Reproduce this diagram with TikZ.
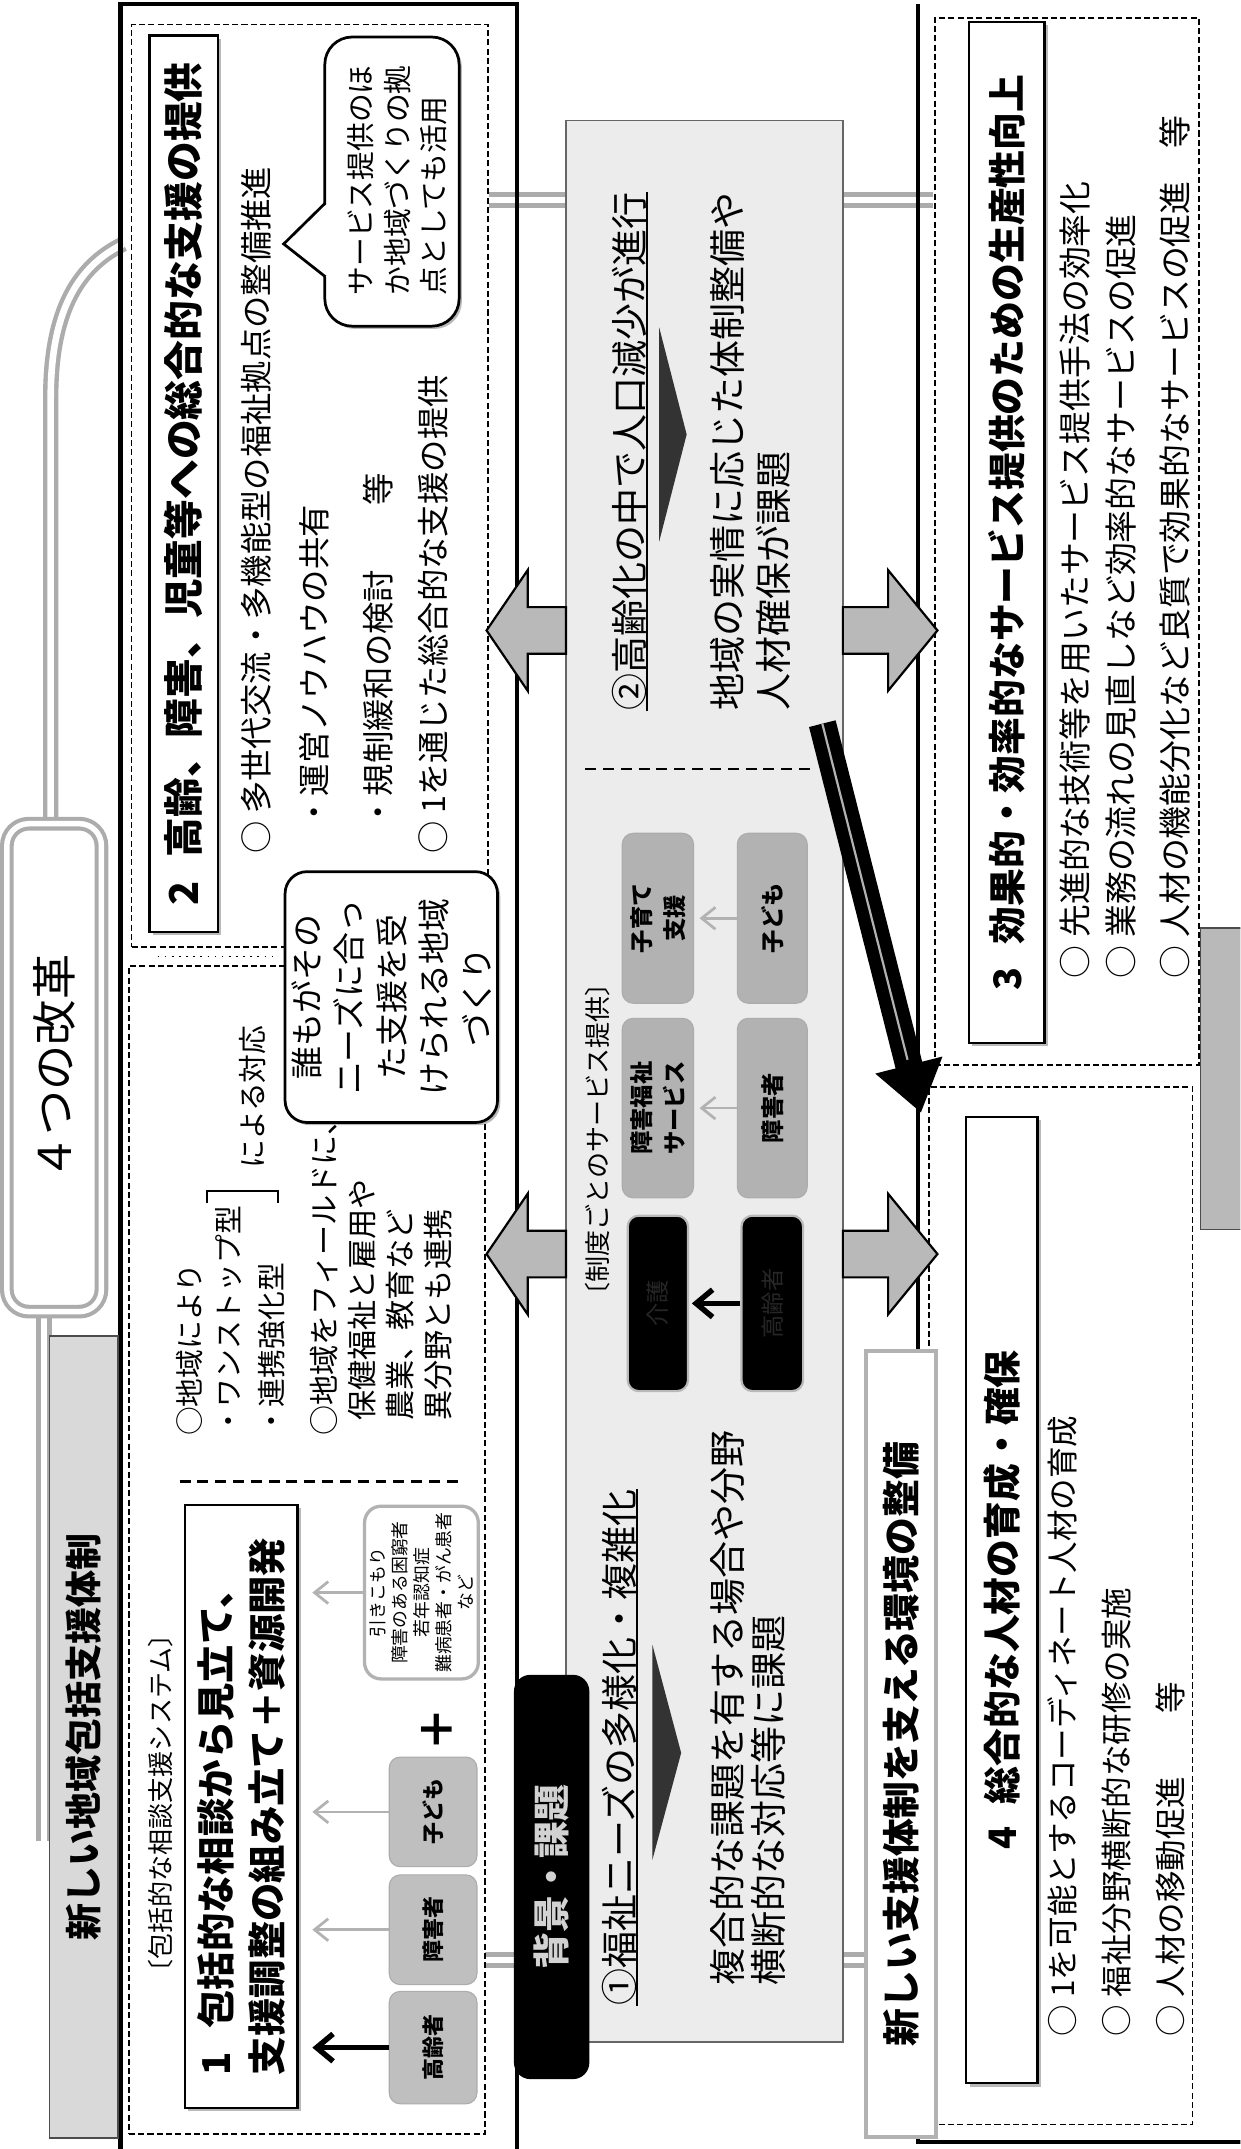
\documentclass[tikz,border=0pt]{standalone}
\usepackage{fontspec}
\setmainfont{Noto Sans CJK JP}
\usetikzlibrary{fit,arrows.meta,shadows}

\newcommand\setfs[2]{\fontsize{#1}{#2}\selectfont}

\tikzset{
  vtxt/.style={rotate=90, inner sep=0pt, anchor=west, align=left},
  vmid/.style={rotate=90, inner sep=0pt, align=center},
  dashbox/.style={draw=black, line width=0.6pt, dash pattern=on 2.2pt off 1.2pt, inner sep=0pt},
  hdrbox/.style={draw=black, line width=0.9pt, fill=white, inner sep=0pt,
    drop shadow={shadow xshift=1.2pt, shadow yshift=-1.2pt, fill=gray!55, opacity=1}},
  roundbox/.style={draw=black, line width=1pt, fill=white, inner sep=0pt,
    drop shadow={shadow xshift=1pt, shadow yshift=-1pt, fill=gray!55, opacity=1}},
  clientbox/.style={fill=gray!50, draw=gray!65, rounded corners=4pt, inner sep=0pt},
  darkbox/.style={fill=black, draw=gray!55, line width=0.8pt, rounded corners=4pt, inner sep=0pt},
  otherbox/.style={draw=gray!60, line width=1.2pt, rounded corners=6pt, fill=white, inner sep=0pt},
  greyline/.style={draw=gray!65, double=white, double distance=2.4pt, line width=1.6pt},
  blockarrow/.style={fill=gray!55, draw=black, line width=0.8pt},
  greyarrow/.style={draw=gray!60, line width=1pt, -{Straight Barb[length=5pt, width=8pt]}},
  blackarrow/.style={draw=black, line width=2pt, -{Straight Barb[length=6pt, width=10pt]}},
  headfont/.style={font=\bfseries\setfs{13.8}{18}},
  bandfont/.style={font=\setfs{13.5}{17}}
}

\begin{document}
\begin{tikzpicture}[x=0.5pt, y=-0.5pt]
\useasboundingbox (0,0) rectangle (905,1568);
\clip (0,0) rectangle (905,1568);
\fill [white] (0,0) rectangle (905,1568);

% connecting lines
\draw [greyline] (37,601) -- (37,290) .. controls (37,230) and (55,195) .. (90,178);
\draw [greyline] (32,957) -- (32,1343);
\draw [greyline] (357,146) -- (681,146);
\draw [greyline] (354,1430) -- (632,1430);

% frames
\draw [line width=1.6pt] (88,1590) -- (88,3) -- (377,3) -- (377,1590);
\draw [line width=1.6pt] (670,3) -- (670,1563) -- (910,1563);

% Title
\node [draw=gray!65, double=white, double distance=2pt, line width=1.5pt,
  fill=white, rounded corners=8pt, inner sep=0pt,
  fit={(5,601) (74,957)}] (title) {};
\node [vmid, font=\setfs{16.5}{20}] at (title) {４つの改革};

% New system header
\node [fill=gray!30, draw=black!70, line width=0.6pt, inner sep=0pt,
  fit={(36,975) (86,1560)}] (sysbox) {};
\node [vmid, font=\bfseries\setfs{13.5}{16}] at (sysbox) {新しい地域包括支援体制};

% Sections 2 and 1
\node [dashbox, fit={(96,18) (356,691)}] (sec2) {};
\node [dashbox, fit={(94,705) (354,1557)}] (sec1) {};
\draw [dotted, line width=0.6pt] (115,698) -- (203,698);

% Header 2
\node [hdrbox, fit={(109,26) (159,680)}] (hdr2) {};
\node [vmid, font=\bfseries\setfs{14.5}{16}] at (hdr2)
  {2\hspace{0.6em}高齢、障害、児童等への総合的な支援の提供};

% Items of 2
\node [vtxt, font=\setfs{11.8}{14}] (b2a) at (187,623) {○ 多世代交流・多機能型の福祉拠点の整備推進};
\node [vtxt, font=\setfs{11.8}{14}] (b2b) at (229,605) {・運営ノウハウの共有};
\node [vtxt, font=\setfs{11.8}{14}] (b2c) at (276,605) {・規制緩和の検討\hspace{2em}等};
\node [vtxt, font=\setfs{11.8}{14}] (b2d) at (316,623) {○ 1を通じた総合的な支援の提供};

% Speech bubble
\node [roundbox, rounded corners=10pt, fit={(237,27) (335,238)}] (hub) {};
\fill [white] (239,147) -- (207,178) -- (239,203) -- cycle;
\draw [line width=1pt] (237.5,148) -- (207,178) -- (237.5,202);
\node [vtxt, font=\setfs{10.5}{13.25}] (hubtxt) at (290,216)
  {サービス提供のほ\\か地域づくりの拠\\点としても活用};

% Goal callout
\node [roundbox, rounded corners=8pt, fit={(208,636) (363,819)}] (goal) {};
\node [vmid, font=\setfs{12}{15.5}] at (goal)
  {誰もがその\\ニーズに合っ\\た支援を受\\けられる地域\\づくり};

% Section 1 contents
\node [vtxt, font=\setfs{9.5}{11}] (sysname) at (117,1449) {〔包括的な相談支援システム〕};
\node [hdrbox, fit={(135,1098) (217,1538)}] (hdr1) {};
\node [vmid, align=left, font=\bfseries\setfs{14}{18.5}] at (hdr1)
  {1\hspace{0.6em}包括的な相談から見立て、\\支援調整の組み立て＋資源開発};

\foreach \nm/\txt/\ya/\yb in {kourei/高齢者/1453/1535, shogai/障害者/1368/1448, kodomo/子ども/1282/1362}{
  \node [clientbox, fit={(284,\ya) (348,\yb)}] (\nm) {};
  \node [vmid, font=\bfseries\setfs{8}{8}] at (\nm) {\txt};
}
\node [vmid, font=\bfseries\setfs{16}{16}] (plus) at (319,1262) {＋};

\node [otherbox, fit={(266,1099) (349,1225)}] (others) {};
\node [vmid, font=\setfs{6.5}{8}] at (others)
  {引きこもり\\障害のある困窮者\\若年認知症\\難病患者・がん患者\\など};

\draw [blackarrow, shorten >=5pt] (kourei.west) -- (kourei.west -| hdr1.east);
\draw [greyarrow, shorten >=5pt] (shogai.west) -- (shogai.west -| hdr1.east);
\draw [greyarrow, shorten >=5pt] (kodomo.west) -- (kodomo.west -| hdr1.east);
\draw [greyarrow, shorten >=5pt] (others.west) -- (others.west -| hdr1.east);

\draw [draw=black, line width=0.9pt, dash pattern=on 4pt off 2.5pt] (131,1081) -- (336,1081);

\node [vtxt, font=\setfs{10.5}{13}] (area1) at (138,1048) {○地域により};
\node [vtxt, font=\setfs{10.5}{13}] (area1a) at (167,1048) {・ワンストップ型};
\node [vtxt, font=\setfs{10.5}{13}] (area1b) at (198,1048) {・連携強化型};
\draw [line width=0.8pt] (151,878) -- (151,869) -- (203,869) -- (203,878);
\node [vtxt, font=\setfs{10.5}{13}] (taiou) at (184,853) {による対応};
\node [vtxt, font=\setfs{11}{13.85}] (area2) at (278,1048)
  {○地域をフィールドに、\\\hspace*{0.5em}保健福祉と雇用や\\\hspace*{0.5em}農業、教育など\\\hspace*{0.5em}異分野とも連携};

% Background band
\node [fill=gray!15, draw=black!60, line width=0.5pt, inner sep=0pt,
  fit={(413,88) (615,1490)}] (bg) {};

\node [vtxt, bandfont] (need2) at (459,519) {②高齢化の中で人口減少が進行};
\draw [line width=0.8pt] (need2.south west) -- (need2.south east);
\fill [black!80] (481,239) -- (501,317) -- (481,395) -- cycle;
\node [vtxt, font=\setfs{13.5}{17}] (need2txt) at (547.5,519)
  {地域の実情に応じた体制整備や\\人材確保が課題};

\draw [draw=black, line width=0.8pt, dash pattern=on 4pt off 2.5pt] (427,561) -- (593,561);

\node [vtxt, font=\setfs{9.5}{11}] (seido) at (436,955) {〔制度ごとのサービス提供〕};
\node [clientbox, fill=gray!60, fit={(454,608) (506,732)}] (kosodate) {};
\node [vmid, font=\bfseries\setfs{8.5}{12}] at (kosodate) {子育て\\支援};
\node [clientbox, fill=gray!60, fit={(538,608) (589,732)}] (kodomo2) {};
\node [vmid, font=\bfseries\setfs{8.5}{12}] at (kodomo2) {子ども};
\node [clientbox, fill=gray!60, fit={(454,743) (506,874)}] (shogaisvc) {};
\node [vmid, font=\bfseries\setfs{8.5}{12}] at (shogaisvc) {障害福祉\\サービス};
\node [clientbox, fill=gray!60, fit={(538,743) (589,874)}] (shogai2) {};
\node [vmid, font=\bfseries\setfs{8.5}{12}] at (shogai2) {障害者};
\node [darkbox, fit={(458,887) (502,1015)}] (kaigo) {};
\node [vmid, text=black!85, font=\setfs{8.5}{12}] at (kaigo) {介護};
\node [darkbox, fit={(541,887) (586,1015)}] (kourei2) {};
\node [vmid, text=black!85, font=\setfs{8.5}{12}] at (kourei2) {高齢者};
\draw [greyarrow, shorten >=2pt] (kodomo2.west) -- (kosodate.east);
\draw [greyarrow, shorten >=2pt] (shogai2.west) -- (shogaisvc.east);
\draw [blackarrow, shorten >=1pt] (kourei2.west) -- (kaigo.east);

\node [vtxt, bandfont] (need1) at (452,1464) {①福祉ニーズの多様化・複雑化};
\draw [line width=0.8pt] (need1.south west) -- (need1.south east);
\fill [black!80] (476,1200) -- (497,1279) -- (476,1357) -- cycle;
\node [vtxt, font=\setfs{13.5}{15}] (need1txt) at (545.5,1449)
  {複合的な課題を有する場合や分野\\横断的な対応等に課題};

% Background label
\node [fill=black, rounded corners=6pt, inner sep=0pt, fit={(375,1222) (430,1517)}] (issue) {};
\node [vmid, text=gray!35, font=\bfseries\setfs{13.5}{16}] at (issue) {背景・課題};

% Section 3
\node [dashbox, fit={(682,13) (875,777)}] (sec3) {};
\node [hdrbox, fit={(707,16) (762,761)}] (hdr3) {};
\node [vmid, headfont] at (hdr3) {3\hspace{0.6em}効果的・効率的なサービス提供のための生産性向上};
\node [vtxt, font=\setfs{12}{14}] (b3a) at (784,714) {○ 先進的な技術等を用いたサービス提供手法の効率化};
\node [vtxt, font=\setfs{12}{14}] (b3b) at (818,714) {○ 業務の流れの見直しなど効率的なサービスの促進};
\node [vtxt, font=\setfs{12}{14}] (b3c) at (857,714) {○ 人材の機能分化など良質で効果的なサービスの促進\hspace{1em}等};

% Section 4
\node [dashbox, fit={(678,793) (870,1550)}] (sec4) {};
\node [hdrbox, fit={(705,815) (757,1520)}] (hdr4) {};
\node [vmid, headfont] at (hdr4) {4\hspace{0.6em}総合的な人材の育成・確保};
\node [vtxt, font=\setfs{11.5}{14}] (b4a) at (775,1486) {○ 1を可能とするコーディネート人材の育成};
\node [vtxt, font=\setfs{11.5}{14}] (b4b) at (815,1486) {○ 福祉分野横断的な研修の実施};
\node [vtxt, font=\setfs{11.5}{14}] (b4c) at (854,1486) {○ 人材の移動促進\hspace{2em}等};

% Environment box
\node [draw=gray!60, line width=1.4pt, fill=white, inner sep=0pt,
  fit={(632,986) (683,1559)}] (env) {};
\node [vmid, font=\bfseries\setfs{13.8}{16}] at (env) {新しい支援体制を支える環境の整備};

% cut-off bar at the right edge
\filldraw [fill=gray!55, draw=black!70, line width=0.5pt] (876,677) rectangle (910,897);

% Block arrows
\foreach \c in {460,915}{
  \filldraw [blockarrow] (413,\c-17) -- (385,\c-17) -- (385,\c-44) -- (355,\c)
    -- (385,\c+44) -- (385,\c+17) -- (413,\c+17) -- cycle;
  \filldraw [blockarrow] (615,\c-17) -- (648,\c-17) -- (648,\c-44) -- (684,\c)
    -- (648,\c+44) -- (648,\c+17) -- (615,\c+17) -- cycle;
}

% Diagonal arrow
\coordinate (diagfrom) at (600,528);
\coordinate (diagto) at (672,812);
\draw [line width=10pt, -{Triangle[length=18pt, width=24pt]}] (diagfrom) -- (diagto);
\draw [gray!60, line width=0.8pt, shorten >=20pt] (diagfrom) -- (diagto);

\end{tikzpicture}
\end{document}
